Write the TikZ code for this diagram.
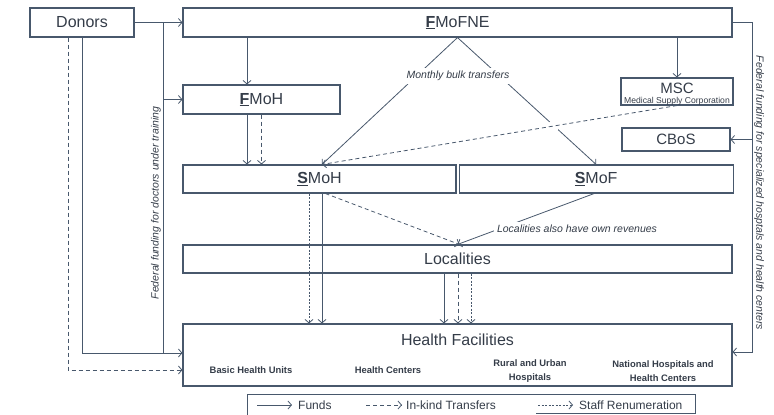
\documentclass[tikz,border=0pt]{standalone}
\usepackage{fontspec}
\setmainfont{Liberation Sans}
\usepackage{xcolor}
\usepackage{tikz}
\usetikzlibrary{arrows.meta}
\usetikzlibrary{positioning, calc}
\definecolor{linec}{RGB}{72,88,108}
\definecolor{textc}{RGB}{52,60,72}
\newcommand{\boxfont}{\fontsize{16}{19}\selectfont}
\newcommand{\notefont}{\fontsize{10.5}{12}\selectfont\itshape}
\newcommand{\subfont}{\fontsize{9.4}{14}\selectfont\bfseries}
\newcommand{\legfont}{\fontsize{12}{14}\selectfont}
\newcommand{\mscfont}{\fontsize{8.6}{10}\selectfont}
\newcommand{\keyletter}[1]{\underline{\textbf{#1}}}
\tikzset{
    orgbox/.style = {draw=linec, line width=1.1pt, inner sep=0pt,
        text centered, text=textc, font=\boxfont},
    fund/.style = {draw=linec, line width=0.8pt, ->},
    inkind/.style = {fund, dash pattern=on 4pt off 3pt},
    staff/.style = {fund, dash pattern=on 2pt off 1.5pt},
    note/.style = {font=\notefont, text=textc, fill=white, inner sep=3pt},
    sidenote/.style = {font=\notefont, text=textc, inner sep=0pt},
    unit/.style = {font=\subfont, text=textc, align=center, inner sep=0pt},
    legtext/.style = {font=\legfont, text=textc, anchor=west, inner sep=0pt},
}

\begin{document}
\begin{tikzpicture}[x=1pt, y=-1pt, >={Straight Barb[length=3.5pt,width=8pt]}]
            \useasboundingbox (0,0) rectangle (774,415);
            % agencies
            \node (donors) [orgbox, minimum width=104pt, minimum height=29pt] at (82,22.5) {Donors};
            \node (fmofne) [orgbox, minimum width=549pt, minimum height=29pt] at (457.5,22.5) {\keyletter{F}MoFNE};
            \node (fmoh) [orgbox, minimum width=157pt, minimum height=29pt] at (261.5,99.5) {\keyletter{F}MoH};
            \node (msc) [orgbox, minimum width=112pt, minimum height=27pt] at (677,91.5) {};
            \node (msctitle) [text=textc, font=\fontsize{15}{17}\selectfont, inner sep=0pt] at (677,88) {MSC};
            \node (mscname) [text=textc, font=\mscfont, inner sep=0pt] at (677,101) {Medical Supply Corporation};
            \node (cbos) [orgbox, minimum width=108pt, minimum height=23pt, font=\fontsize{15}{17}\selectfont] at (676,139.5) {CBoS};
            \node (smoh) [orgbox, minimum width=273pt, minimum height=28pt] at (319.5,179) {\keyletter{S}MoH};
            \node (smof) [orgbox, minimum width=274pt, minimum height=28pt, right=2pt of smoh] {\keyletter{S}MoF};
            \node (loc) [orgbox, minimum width=549pt, minimum height=28pt] at (457.5,259) {Localities};
            \node (hf) [orgbox, minimum width=549pt, minimum height=62pt] at (457.5,355) {};
            \node (hftitle) [text=textc, font=\boxfont, inner sep=0pt] at (457.5,340) {Health Facilities};
            \node (bhu) [unit] at (251,370) {Basic Health Units};
            \node (hc) [unit] at (388,370) {Health Centers};
            \node (rural) [unit] at (530,371) {Rural and Urban\\Hospitals};
            \node (natl) [unit] at (663,371) {National Hospitals and\\Health Centers};
            % points on the side lines
            \coordinate (lt) at (163,22.5);
            \coordinate (lb) at (163,353);
            \coordinate (rt) at (752,22.5);
            \coordinate (rb) at (752,352);
            % donors and federal funding on the left
            \draw[fund] (donors) -- (fmofne);
            \draw[fund, -] (lt) -- (lb);
            \draw[fund] (lt |- fmoh.west) -- (fmoh.west);
            \draw[fund] (donors.south) |- (hf.west |- lb);
            \draw[inkind] ([xshift=-14pt]donors.south) |- (hf.west |- 0,370);
            \node (fedleft) [sidenote, rotate=90] at (156,203) {Federal funding for doctors under training};
            % federal level
            \draw[fund] ([xshift=-14.5pt]fmoh.north |- fmofne.south) -- ([xshift=-14.5pt]fmoh.north);
            \draw[fund] ([xshift=-14.5pt]fmoh.south) -- ([xshift=-14.5pt]fmoh.south |- smoh.north);
            \draw[inkind] (fmoh.south) -- (fmoh.south |- smoh.north);
            \draw[fund] (msc.north |- fmofne.south) -- (msc.north);
            \draw[fund] (fmofne.south) -- ([xshift=2.5pt]smoh.north);
            \draw[fund] (fmofne.south) -- (smof.north);
            \node (bulk) [note] at (458,76) {Monthly bulk transfers};
            \draw[white, line width=5pt] ($(fmofne.south)!0.665!(smof.north)$) -- ($(fmofne.south)!0.725!(smof.north)$);
            \draw[inkind] (msc.south) -- ([xshift=2.5pt]smoh.north);
            % federal funding on the right
            \draw[fund] (fmofne.east) -| (rb) -- (hf.east |- rb);
            \draw[fund] (cbos.east -| rb) -- (cbos.east);
            \node (fedright) [sidenote, rotate=-90] at (759,193) {Federal funding for specialized hosptals and health centers};
            % state level
            \draw[fund] ([xshift=2.5pt]smoh.south) -- ([xshift=2.5pt]smoh.south |- hf.north);
            \draw[staff] ([xshift=-10.5pt]smoh.south) -- ([xshift=-10.5pt]smoh.south |- hf.north);
            \draw[inkind] ([xshift=6pt]smoh.south) -- ([xshift=2pt]loc.north);
            \draw[fund] ([xshift=-2pt]smof.south) -- (loc.north);
            \node (ownrev) [note] at (577,229) {Localities also have own revenues};
            % localities
            \draw[fund] ([xshift=-13.5pt]loc.south) -- ([xshift=-13.5pt]hf.north);
            \draw[inkind] ([xshift=0.5pt]loc.south) -- ([xshift=0.5pt]hf.north);
            \draw[staff] ([xshift=13.5pt]loc.south) -- ([xshift=13.5pt]hf.north);
            % legend
            \draw[linec, line width=0.8pt] (247,415) -- (247,394) -- (695,394) -- (695,413) -- (536,413);
            \coordinate (fa) at (257,405);
            \coordinate (ka) at (366,405);
            \coordinate (sa) at (538,405);
            \draw[fund] (fa) -- ++(35,0) coordinate (fb);
            \node (fundtxt) [legtext] at ([xshift=6pt]fb) {Funds};
            \draw[inkind] (ka) -- ++(36,0) coordinate (kb);
            \node (kindtxt) [legtext] at ([xshift=4pt]kb) {In-kind Transfers};
            \draw[staff] (sa) -- ++(35,0) coordinate (sb);
            \node (stafftxt) [legtext] at ([xshift=6pt]sb) {Staff Renumeration};
\end{tikzpicture}
\end{document}
